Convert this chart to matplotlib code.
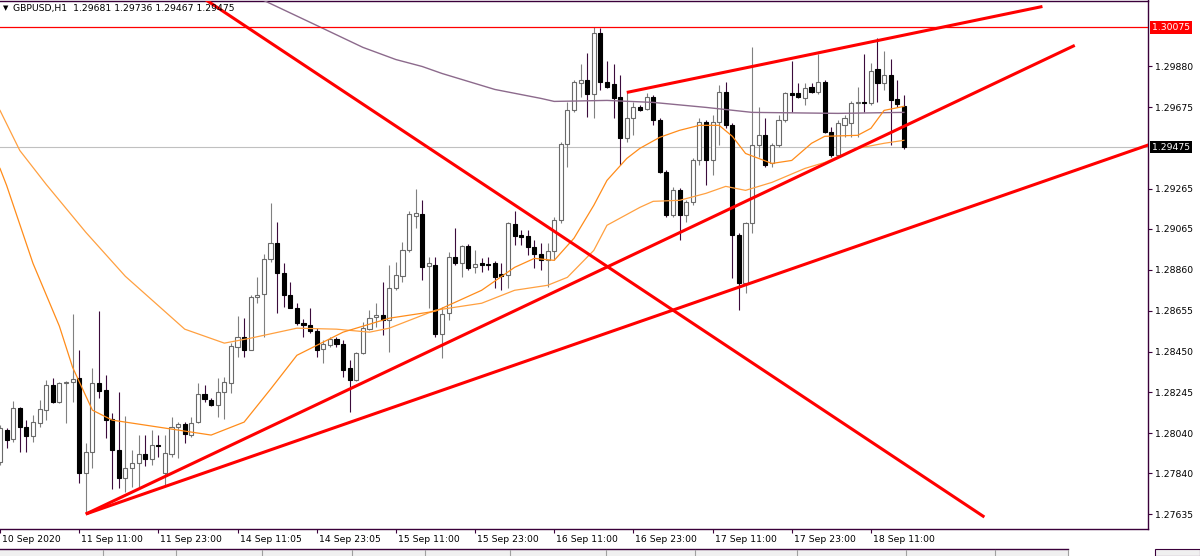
import matplotlib
matplotlib.use("Agg")
import matplotlib.pyplot as plt
import matplotlib.transforms as mtransforms
from matplotlib.patches import Rectangle
from matplotlib.lines import Line2D
import numpy as np

# GBPUSD H1 candles, bar 0 = 10 Sep 23:00
bar_open = [1.27895, 1.28056, 1.28011, 1.28166, 1.28071, 1.28026, 1.28091, 1.28156, 1.28281, 1.28196,
            1.28291, 1.28296, 1.28316, 1.27840, 1.27945, 1.28291, 1.28256, 1.28111, 1.27955, 1.27815,
            1.27865, 1.27890, 1.27935, 1.27910, 1.27981, 1.27840, 1.27935, 1.28071, 1.28086, 1.28031,
            1.28096, 1.28236, 1.28206, 1.28181, 1.28246, 1.28291, 1.28472, 1.28522, 1.28456, 1.28722,
            1.28737, 1.28912, 1.28993, 1.28842, 1.28732, 1.28667, 1.28592, 1.28582, 1.28552, 1.28462,
            1.28482, 1.28512, 1.28487, 1.28366, 1.28306, 1.28441, 1.28562, 1.28622, 1.28632, 1.28607,
            1.28767, 1.28827, 1.28957, 1.29128, 1.29138, 1.28877, 1.28882, 1.28537, 1.28642, 1.28922,
            1.28892, 1.28978, 1.28872, 1.28892, 1.28887, 1.28892, 1.28837, 1.28832, 1.29088, 1.29033,
            1.29028, 1.28973, 1.28937, 1.28907, 1.28952, 1.29108, 1.29489, 1.29659, 1.29794, 1.29809,
            1.29739, 1.30045, 1.29799, 1.29789, 1.29724, 1.29519, 1.29619, 1.29674, 1.29664, 1.29724,
            1.29609, 1.29348, 1.29133, 1.29258, 1.29133, 1.29198, 1.29408, 1.29599, 1.29408, 1.29599,
            1.29749, 1.29584, 1.29033, 1.28792, 1.29093, 1.29484, 1.29534, 1.29393, 1.29484, 1.29609,
            1.29744, 1.29744, 1.29719, 1.29774, 1.29749, 1.29799, 1.29549, 1.29433, 1.29584, 1.29594,
            1.29694, 1.29699, 1.29694, 1.29869, 1.29794, 1.29834, 1.29714, 1.29681]
bar_high = [1.28081, 1.28066, 1.28201, 1.28171, 1.28106, 1.28131, 1.28206, 1.28306, 1.28316, 1.28296,
            1.28301, 1.28637, 1.28456, 1.27991, 1.28366, 1.28652, 1.28331, 1.28141, 1.28246, 1.28126,
            1.27955, 1.28031, 1.28031, 1.28056, 1.28031, 1.28031, 1.28121, 1.28096, 1.28096, 1.28121,
            1.28291, 1.28281, 1.28216, 1.28316, 1.28321, 1.28492, 1.28627, 1.28617, 1.28732, 1.28822,
            1.28937, 1.29193, 1.29098, 1.28892, 1.28797, 1.28692, 1.28612, 1.28667, 1.28567, 1.28507,
            1.28522, 1.28522, 1.28507, 1.28406, 1.28446, 1.28597, 1.28657, 1.28692, 1.28797, 1.28882,
            1.28897, 1.28998, 1.29153, 1.29263, 1.29208, 1.28922, 1.28922, 1.28672, 1.28947, 1.29068,
            1.28983, 1.28988, 1.28957, 1.28917, 1.28922, 1.28902, 1.28892, 1.29098, 1.29153, 1.29058,
            1.29058, 1.29008, 1.28993, 1.28993, 1.29123, 1.29499, 1.29699, 1.29809, 1.29894, 1.29949,
            1.30075, 1.30070, 1.29909, 1.29894, 1.29834, 1.29749, 1.29699, 1.29684, 1.29744, 1.29734,
            1.29619, 1.29358, 1.29273, 1.29268, 1.29208, 1.29418, 1.29619, 1.29609, 1.29634, 1.29784,
            1.29799, 1.29594, 1.29043, 1.29098, 1.29975, 1.29674, 1.29619, 1.29494, 1.29634, 1.29749,
            1.29909, 1.29794, 1.29794, 1.29794, 1.29944, 1.29809, 1.29574, 1.29609, 1.29634, 1.29704,
            1.29774, 1.29944, 1.29899, 1.30020, 1.29959, 1.29919, 1.29809, 1.29736]
bar_low = [1.27880, 1.27966, 1.27996, 1.27945, 1.27945, 1.27996, 1.28071, 1.28106, 1.28191, 1.28191,
           1.28091, 1.28196, 1.27790, 1.27635, 1.27865, 1.28216, 1.28016, 1.27760, 1.27765, 1.27745,
           1.27770, 1.27765, 1.27875, 1.27880, 1.27920, 1.27780, 1.27920, 1.27915, 1.27991, 1.28021,
           1.28091, 1.28196, 1.28176, 1.28121, 1.28111, 1.28241, 1.28421, 1.28421, 1.28456, 1.28692,
           1.28522, 1.28897, 1.28642, 1.28672, 1.28667, 1.28582, 1.28522, 1.28542, 1.28421, 1.28391,
           1.28472, 1.28472, 1.28321, 1.28146, 1.28301, 1.28436, 1.28557, 1.28572, 1.28532, 1.28446,
           1.28757, 1.28797, 1.28947, 1.29068, 1.28807, 1.28667, 1.28522, 1.28416, 1.28607, 1.28882,
           1.28822, 1.28857, 1.28842, 1.28847, 1.28857, 1.28767, 1.28757, 1.28767, 1.28983, 1.28983,
           1.28932, 1.28867, 1.28857, 1.28772, 1.28907, 1.29093, 1.29373, 1.29649, 1.29724, 1.29624,
           1.29619, 1.29759, 1.29769, 1.29619, 1.29383, 1.29499, 1.29534, 1.29654, 1.29659, 1.29584,
           1.29343, 1.29123, 1.29123, 1.29008, 1.29098, 1.29183, 1.29383, 1.29283, 1.29333, 1.29484,
           1.29569, 1.28817, 1.28657, 1.28742, 1.29043, 1.29424, 1.29373, 1.29373, 1.29474, 1.29599,
           1.29649, 1.29719, 1.29684, 1.29744, 1.29739, 1.29544, 1.29424, 1.29424, 1.29524, 1.29524,
           1.29524, 1.29649, 1.29684, 1.29699, 1.29759, 1.29484, 1.29674, 1.29467]
bar_close = [1.28066, 1.28006, 1.28166, 1.28071, 1.28026, 1.28096, 1.28161, 1.28281, 1.28196, 1.28291,
             1.28296, 1.28311, 1.27840, 1.27945, 1.28291, 1.28251, 1.28106, 1.27955, 1.27815, 1.27865,
             1.27890, 1.27935, 1.27910, 1.27981, 1.27976, 1.27940, 1.28071, 1.28086, 1.28036, 1.28091,
             1.28236, 1.28211, 1.28181, 1.28246, 1.28296, 1.28477, 1.28522, 1.28456, 1.28722, 1.28732,
             1.28912, 1.28993, 1.28842, 1.28732, 1.28667, 1.28592, 1.28582, 1.28552, 1.28456, 1.28487,
             1.28512, 1.28487, 1.28356, 1.28306, 1.28441, 1.28567, 1.28617, 1.28632, 1.28607, 1.28767,
             1.28832, 1.28957, 1.29138, 1.29143, 1.28872, 1.28892, 1.28537, 1.28637, 1.28922, 1.28892,
             1.28978, 1.28867, 1.28887, 1.28882, 1.28885, 1.28822, 1.28827, 1.29093, 1.29028, 1.29023,
             1.28973, 1.28937, 1.28907, 1.28952, 1.29108, 1.29489, 1.29659, 1.29799, 1.29809, 1.29739,
             1.30045, 1.29799, 1.29774, 1.29719, 1.29519, 1.29619, 1.29674, 1.29659, 1.29724, 1.29609,
             1.29348, 1.29133, 1.29258, 1.29133, 1.29198, 1.29408, 1.29599, 1.29408, 1.29599, 1.29749,
             1.29584, 1.29033, 1.28792, 1.29093, 1.29484, 1.29534, 1.29383, 1.29484, 1.29609, 1.29744,
             1.29734, 1.29724, 1.29769, 1.29749, 1.29799, 1.29549, 1.29433, 1.29594, 1.29619, 1.29694,
             1.29699, 1.29694, 1.29859, 1.29794, 1.29834, 1.29709, 1.29689, 1.29475]

ma_fast_bar = [0, 1, 5, 9, 11, 14, 17, 25, 32, 37, 41, 45, 52, 59, 66, 73, 78, 81, 84, 87, 90, 92, 95,
               97, 100, 103, 106, 109, 111, 113, 115, 117, 120, 123, 125, 130, 132, 134, 137]
ma_fast = [1.29368, 1.29283, 1.28892, 1.28577, 1.28371, 1.28156, 1.28106, 1.28066, 1.28031, 1.28096,
           1.28261, 1.28431, 1.28547, 1.28617, 1.28652, 1.28757, 1.28872, 1.28917, 1.28907, 1.29018,
           1.29183, 1.29308, 1.29418, 1.29469, 1.29524, 1.29559, 1.29584, 1.29584, 1.29529, 1.29443,
           1.29418, 1.29393, 1.29408, 1.29494, 1.29529, 1.29534, 1.29569, 1.29659, 1.29679]
ma_mid_bar = [0, 3, 7, 13, 19, 28, 34, 38, 45, 51, 56, 59, 66, 73, 78, 83, 86, 90, 92, 97, 99, 103,
              107, 110, 113, 117, 122, 125, 130, 134, 137]
ma_mid = [1.29659, 1.29458, 1.29288, 1.29048, 1.28827, 1.28562, 1.28492, 1.28517, 1.28567, 1.28562,
          1.28547, 1.28567, 1.28657, 1.28692, 1.28757, 1.28782, 1.28822, 1.28957, 1.29083, 1.29173,
          1.29203, 1.29208, 1.29243, 1.29278, 1.29258, 1.29298, 1.29368, 1.29398, 1.29469, 1.29494,
          1.29509]
ma_slow_bar = [36, 40, 48, 55, 60, 64, 67, 75, 82, 84, 92, 99, 107, 114, 127, 137]
ma_slow = [1.30260, 1.30210, 1.30085, 1.29975, 1.29914, 1.29879, 1.29844, 1.29764, 1.29719, 1.29704,
           1.29709, 1.29699, 1.29674, 1.29649, 1.29644, 1.29649]

# trend lines drawn on the chart (bar, price) pairs
trend_lines = [
    ((13.0, 1.27635), (176.0, 1.29508)),
    ((13.0, 1.27635), (162.9, 1.29985)),
    ((95.0, 1.29749), (158.0, 1.30180)),
    ((26.8, 1.30310), (149.2, 1.27620)),
]
resistance = 1.30075
last_price = 1.29475

price_ticks = [1.29880, 1.29675, 1.29265, 1.29065, 1.28860, 1.28655, 1.28450, 1.28245, 1.28040,
               1.27840, 1.27635]
time_ticks = [0, 12, 24, 36, 48, 60, 72, 84, 96, 108, 120, 132]
time_labels = ["10 Sep 2020", "11 Sep 11:00", "11 Sep 23:00", "14 Sep 11:05", "14 Sep 23:05",
               "15 Sep 11:00", "15 Sep 23:00", "16 Sep 11:00", "16 Sep 23:00", "17 Sep 11:00",
               "17 Sep 23:00", "18 Sep 11:00"]

frame = "#3a003a"
fs = 6.7

fig = plt.figure(figsize=(12, 5.56), dpi=100)
ax = fig.add_axes([0, 27 / 556, 1148 / 1200, 528.5 / 556])

o = np.array(bar_open)
h = np.array(bar_high)
l = np.array(bar_low)
c = np.array(bar_close)
x = np.arange(len(o))
up = c >= o

ax.vlines(x[up], l[up], h[up], color="#808080", lw=0.8, zorder=2)
ax.vlines(x[~up], l[~up], h[~up], color="#3b0b3b", lw=0.8, zorder=2)
body_lo = np.minimum(o, c)
body_h = np.abs(c - o)
ax.bar(x[up], body_h[up], bottom=body_lo[up], width=0.62, facecolor="white",
       edgecolor="#6a6a6a", lw=0.8, zorder=3)
ax.bar(x[~up], body_h[~up], bottom=body_lo[~up], width=0.62, facecolor="black",
       edgecolor="black", lw=0.8, zorder=3)

ax.plot(ma_slow_bar, ma_slow, color="#8c6a8c", lw=1.0, zorder=4)
ax.plot(ma_mid_bar, ma_mid, color="#ffa040", lw=0.9, zorder=4)
ax.plot(ma_fast_bar, ma_fast, color="#ff8c1a", lw=0.9, zorder=4)

ax.axhline(last_price, color="#c0c0c0", lw=0.8, zorder=1)
ax.axhline(resistance, color="#ff0000", lw=0.9, zorder=5)
for (x1, y1), (x2, y2) in trend_lines:
    ax.plot([x1, x2], [y1, y2], color="#ff0000", lw=2.2, solid_capstyle="butt", zorder=6)

ax.set_xlim(0.0, 174.0)
ax.set_ylim(1.27560, 1.30210)

# axes look
ax.spines["left"].set_visible(False)
for s in ["top", "right", "bottom"]:
    ax.spines[s].set_color(frame)
    ax.spines[s].set_linewidth(1.0)
ax.yaxis.tick_right()
ax.set_yticks(price_ticks)
ax.set_yticklabels([f"{v:.5f}" for v in price_ticks])
ax.tick_params(axis="y", length=3, width=0.8, color=frame, pad=2, labelsize=fs)
ax.set_xticks(time_ticks)
ax.set_xticklabels(time_labels, ha="left")
ax.tick_params(axis="x", length=3, width=0.8, color=frame, pad=1.5, labelsize=fs)
for lab in ax.get_xticklabels():
    lab.set_transform(lab.get_transform() + mtransforms.ScaledTranslation(2 / 100, 0, fig.dpi_scale_trans))

trans = mtransforms.blended_transform_factory(ax.transAxes, ax.transData)
ax.text(1.0 + 4 / 1148, resistance, "1.30075", transform=trans, va="center", ha="left",
        color="white", fontsize=fs, bbox=dict(boxstyle="square,pad=0.18", fc="#ff0000", ec="none"))
ax.text(1.0 + 4 / 1148, last_price, "1.29475", transform=trans, va="center", ha="left",
        color="white", fontsize=fs, bbox=dict(boxstyle="square,pad=0.18", fc="black", ec="none"))

fig.text(3 / 1200, 1 - 8 / 556, "\u25bc", fontsize=5, va="center", ha="left")
fig.text(13 / 1200, 1 - 8 / 556, "GBPUSD,H1  1.29681 1.29736 1.29467 1.29475", fontsize=fs,
         va="center", ha="left")

# terminal tab strip at the bottom
fig.add_artist(Rectangle((0, 0), 1068 / 1200, 7 / 556, transform=fig.transFigure,
                         fc="#f0f0f0", ec="none"))
fig.add_artist(Line2D([0, 1068 / 1200], [7 / 556, 7 / 556], transform=fig.transFigure,
                      color=frame, lw=1.0))
for sx in [103, 176, 262, 352, 425, 510, 606, 695, 797, 906, 995, 1068]:
    fig.add_artist(Line2D([sx / 1200, sx / 1200], [0, 6 / 556], transform=fig.transFigure,
                          color="#a0a0a0", lw=0.8))
fig.add_artist(Rectangle((1155 / 1200, 0), 45 / 1200, 7 / 556, transform=fig.transFigure,
                         fc="#f0f0f0", ec=frame, lw=0.8))

fig.savefig("out.png", dpi=100)
